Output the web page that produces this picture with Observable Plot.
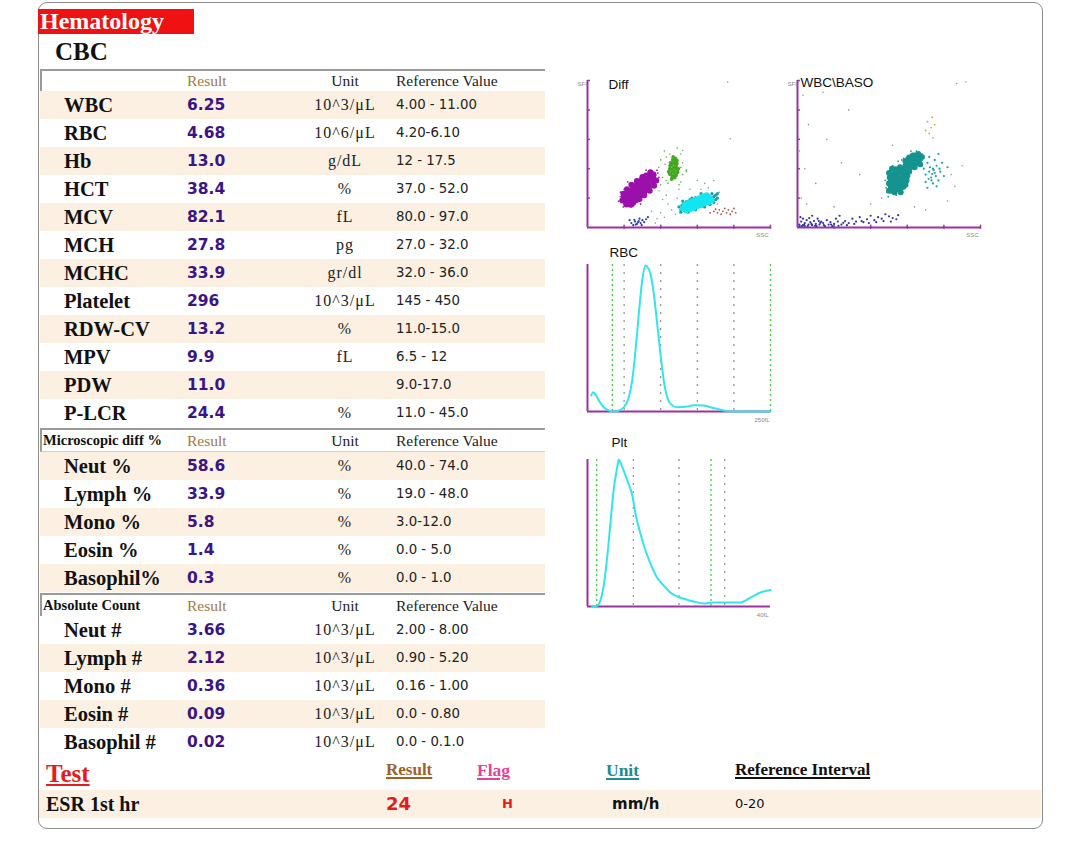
<!DOCTYPE html>
<html><head><meta charset="utf-8">
<script src="https://cdn.jsdelivr.net/npm/d3@7"></script>
<script src="https://cdn.jsdelivr.net/npm/@observablehq/plot@0.6"></script>
<style>
body{margin:0;background:#fff;width:1080px;height:859px;position:relative;overflow:hidden;}
.abs{position:absolute;white-space:nowrap;}
#box{position:absolute;left:38px;top:2px;width:1003px;height:825px;border:1px solid #8c8c8c;border-radius:9px;}
.row{position:absolute;left:40px;width:505px;height:28px;}
.row span{position:absolute;top:0;line-height:28px;white-space:nowrap;}
.nm{left:24px;font:bold 20.5px "Liberation Serif",serif;color:#111;}
.rs{left:147px;font:bold 15.5px "DejaVu Sans",sans-serif;color:#3a1585;}
.un{left:305px;transform:translateX(-50%);font:16px "Liberation Serif",serif;letter-spacing:1px;color:#222;}
.rf{left:356px;font:13.3px "DejaVu Sans",sans-serif;color:#222;}
.hd{position:absolute;left:40px;width:505px;border-top:2px solid #9a9a9a;border-left:2px solid #9a9a9a;border-bottom:1px solid #d0d0d0;box-sizing:border-box;}
.hd span{position:absolute;white-space:nowrap;}
.hres{left:145px;font:15.5px "Liberation Serif",serif;color:#a5773f;}
.hunit{left:303px;transform:translateX(-50%);font:15.5px "Liberation Serif",serif;color:#222;}
.href{left:354px;font:15.5px "Liberation Serif",serif;color:#222;}
.hsec{left:1px;font:bold 14.5px "Liberation Serif",serif;color:#111;}
.chart{position:absolute;}
</style></head>
<body>
<div id="box"></div>
<div class="abs" style="left:38px;top:9px;width:156px;height:25px;background:#f01212;"></div>
<div class="abs" style="left:40px;top:8px;line-height:26px;font:bold 24px 'Liberation Serif',serif;color:#fff;">Hematology</div>
<div class="abs" style="left:55px;top:38px;line-height:28px;font:bold 25px 'Liberation Serif',serif;color:#111;">CBC</div>
<div id="tables"></div>
<div id="charts"></div>
<script>
// ---------- Table data ----------
const cbcNames = ["WBC","RBC","Hb","HCT","MCV","MCH","MCHC","Platelet","RDW-CV","MPV","PDW","P-LCR"];
const cbcResults = ["6.25","4.68","13.0","38.4","82.1","27.8","33.9","296","13.2","9.9","11.0","24.4"];
const cbcUnits = ["10^3/\u03bcL","10^6/\u03bcL","g/dL","%","fL","pg","gr/dl","10^3/\u03bcL","%","fL","","%"];
const cbcRefs = ["4.00 - 11.00","4.20-6.10","12 - 17.5","37.0 - 52.0","80.0 - 97.0","27.0 - 32.0","32.0 - 36.0","145 - 450","11.0-15.0","6.5 - 12","9.0-17.0","11.0 - 45.0"];

const diffNames = ["Neut %","Lymph %","Mono %","Eosin %","Basophil%"];
const diffResults = ["58.6","33.9","5.8","1.4","0.3"];
const diffUnits = ["%","%","%","%","%"];
const diffRefs = ["40.0 - 74.0","19.0 - 48.0","3.0-12.0","0.0 - 5.0","0.0 - 1.0"];

const absNames = ["Neut #","Lymph #","Mono #","Eosin #","Basophil #"];
const absResults = ["3.66","2.12","0.36","0.09","0.02"];
const absUnits = ["10^3/\u03bcL","10^3/\u03bcL","10^3/\u03bcL","10^3/\u03bcL","10^3/\u03bcL"];
const absRefs = ["2.00 - 8.00","0.90 - 5.20","0.16 - 1.00","0.0 - 0.80","0.0 - 0.1.0"];

const headerLabels = ["Result","Unit","Reference Value"];
const sectionTitles = ["Microscopic diff %","Absolute Count"];

const testHeaders = ["Test","Result","Flag","Unit","Reference Interval"];
const esrRow = ["ESR 1st hr","24","H","mm/h","0-20"];

// ---------- Histogram data ----------
const rbcCurve = [[5,10.9],[7.7,13.1],[10.9,11.6],[15.5,7.5],[22.3,2.9],[29.1,0.7],[36,0],[42.8,0.7],[49.6,2.9],[56.4,9.7],[61,21],[65.6,41.5],[70.1,66.5],[74.7,89],[79.2,99.3],[82.4,98],[86,93.7],[90.6,80],[95.2,59.7],[99.7,39.2],[104.2,21],[108.9,9.7],[113.4,5.2],[122.5,2.9],[136.2,3.4],[145.2,4.3],[158.9,4.1],[168,2.9],[177.2,1.8],[186.2,0.7],[195.4,0],[250,0]];
const rbcGrayLines = [50,100,150,200];
const rbcGreenLines = [34,250];

const pltCurve = [[1,0],[2.1,0.5],[2.8,3.9],[3.6,15.3],[4.3,33.4],[5,56.2],[5.7,78.9],[6.5,94.8],[6.8,99.8],[7.6,94.8],[8.7,85.7],[9.8,75.5],[10.5,63],[11.6,49.3],[12.7,37.9],[13.8,28.9],[15.2,19.8],[16.7,14.1],[18.1,9.5],[19.6,6.8],[21.4,5],[23.2,3.4],[25.4,2],[27.6,2.7],[30.5,2.7],[33.4,2.7],[35.6,6.1],[37.8,9.5],[40,11.2]];
const pltGrayLines = [10,20,30];
const pltGreenLines = [2,27];

// ---------- Scatter data (Diff) ----------
const diffLymph = [[1.05,0.85],[1.1,0.95],[1.15,0.9],[1.2,1.05],[1.25,1.0],[1.3,1.15],[1.22,1.2],[1.35,1.1],[1.4,1.3],[1.32,1.35],[1.45,1.2],[1.5,1.4],[1.42,1.45],[1.55,1.35],[1.6,1.55],[1.52,1.6],[1.65,1.5],[1.7,1.7],[1.62,1.72],[1.75,1.65],[1.8,1.8],[1.0,1.05],[1.12,1.12],[1.28,1.28],[1.38,1.22],[1.48,1.52],[1.58,1.45],[1.68,1.62],[1.15,0.78],[1.35,0.95],[0.95,0.92],[1.82,1.62],[1.72,1.86],[1.25,1.42],[1.08,1.0],[1.45,1.32],[1.55,1.22],
  [1.1,0.9],[1.0,1.02],[1.2,0.78],[1.22,1.05],[1.12,1.17],[1.32,0.93],[1.34,1.2],[1.24,1.32],[1.44,1.08],[1.46,1.35],[1.36,1.47],[1.56,1.23],[1.58,1.5],[1.48,1.62],[1.68,1.38],[1.7,1.65],[1.6,1.77],[1.8,1.53],[1.8,1.78],[1.72,1.88],[1.18,1.25],[1.3,1.05],[1.4,1.4],[1.52,1.3],[1.64,1.6],[1.06,0.78],
  [0.98,1.15],[1.08,1.3],[1.2,1.45],[1.35,1.58],[1.5,1.72],[1.25,0.84],[1.42,0.97],[1.55,1.1],[1.7,1.25],[1.82,1.42],[1.88,1.6]];
const diffLymphSparse = [[0.85,0.9],[0.9,1.2],[1.1,1.55],[1.3,1.6],[1.9,1.95],[1.95,1.7],[1.7,1.3],[1.45,0.8],[1.2,0.7],[0.98,0.7],[1.85,1.4],[1.6,1.95],[0.9,1.05],[1.0,1.3],[1.92,1.85],[1.75,1.45]];
const diffMono = [[2.3,1.65],[2.38,1.7],[2.28,1.8],[2.4,1.85],[2.32,1.9],[2.45,1.95],[2.25,2.0],[2.36,2.05],[2.42,2.1],[2.3,2.15],[2.38,2.25],[2.33,2.3],[2.4,2.35],[2.27,2.2],[2.48,2.0],[2.22,1.9],[2.35,1.78],[2.44,2.28],[2.3,1.98],[2.36,1.92],[2.32,1.72],[2.42,1.78],[2.26,2.1],[2.35,2.18],[2.44,2.18],[2.34,2.4],[2.25,1.82],[2.46,1.88],[2.4,2.02]];
const diffMonoSparse = [[2.0,2.3],[2.1,2.6],[2.55,2.5],[2.2,1.5],[2.6,1.8],[2.05,1.7],[2.45,2.7],[1.95,2.05],[2.15,2.4],[2.55,1.55],[2.0,1.45],[2.6,2.2],[2.25,2.5],[2.7,1.95],[2.15,1.6],[2.55,2.05],[2.12,2.15],[2.5,1.45]];
const diffNeutCore = [[2.6,0.65],[2.7,0.68],[2.75,0.75],[2.85,0.75],[2.8,0.83],[2.95,0.8],[2.9,0.88],[3.05,0.85],[3.0,0.93],[3.15,0.9],[3.1,0.97],[3.25,0.95],[3.2,1.02],[3.35,1.0],[2.95,0.72],[2.88,0.8],[3.05,0.92],[3.18,0.95],
  [2.65,0.78],[2.75,0.85],[2.85,0.9],[2.95,0.95],[3.05,1.0],[3.15,1.05],[3.25,1.1],[2.7,0.58],[2.8,0.62],[2.9,0.66],[3.0,0.72],[3.1,0.76],[3.2,0.82],[3.3,0.86],[3.4,0.92]];
const diffNeutOuter = [[2.55,0.6],[2.65,0.58],[2.58,0.75],[2.7,0.88],[2.85,0.65],[3.0,0.7],[3.1,0.8],[3.3,0.88],[3.4,0.92],[3.45,1.05],[3.3,1.1],[3.5,1.1],[3.4,1.15],[3.15,1.1],[2.95,1.02],[2.8,0.95],[2.62,0.82],[3.55,1.0],[3.45,0.85],[2.5,0.7],[2.55,0.52],[2.75,0.52],[2.95,0.6],[3.2,0.7],[3.35,0.78],[3.5,0.95],[3.1,1.15],[2.85,1.0],[2.6,0.9],[3.55,1.15]];
const diffEos = [[3.35,0.5],[3.45,0.55],[3.55,0.5],[3.6,0.6],[3.7,0.55],[3.75,0.65],[3.8,0.5],[3.85,0.6],[3.95,0.55],[4.0,0.65],[3.9,0.45],[3.65,0.45],[3.5,0.62],[4.05,0.5]];
const diffBlue = [[1.2,0.15],[1.3,0.2],[1.35,0.12],[1.4,0.22],[1.45,0.15],[1.5,0.25],[1.55,0.18],[1.6,0.28],[1.25,0.08],[1.42,0.3],[1.15,0.25],[1.65,0.35],[1.32,0.1],[1.48,0.08],[1.38,0.18],[1.28,0.26]];
const diffSparse = [[3.83,4.95],[3.9,3.02],[2.6,2.62],[2.15,1.1],[2.3,0.6],[2.5,1.3],[2.8,1.3],[3.2,1.5],[3.45,1.6],[3.6,1.2],[2.0,0.5],[1.9,0.3],[2.1,0.35],[2.4,0.45],[3.55,0.8],[1.95,1.25],[2.7,1.9],[3.1,1.3],[1.75,0.55],[2.2,0.8],[2.45,1.0],[1.85,0.15],[2.05,0.95],[3.0,1.6],[3.3,1.35]];

// ---------- Scatter data (WBC\BASO) ----------
const basoMain = [[2.55,1.3],[2.65,1.2],[2.75,1.3],[2.6,1.45],[2.7,1.5],[2.8,1.45],[2.55,1.6],[2.65,1.65],[2.78,1.62],[2.88,1.7],[2.6,1.8],[2.72,1.85],[2.85,1.88],[2.68,1.98],[2.8,2.05],[2.92,2.0],[2.5,1.5],[2.9,1.55],[2.62,1.35],[2.7,1.75],[2.95,2.1],[3.05,2.2],[3.0,2.3],[3.12,2.35],[3.15,2.15],[3.22,2.28],[3.28,2.4],[3.2,2.45],[3.3,2.22],[3.08,2.05],[3.35,2.35],[2.98,1.95],[3.05,2.38],[2.58,1.72],[2.82,1.2],
  [2.58,1.25],[2.72,1.38],[2.85,1.6],[2.62,1.55],[2.75,1.72],[2.9,1.82],[2.55,1.4],[2.68,1.9],[2.8,1.95],[2.92,1.88],[2.65,1.28],[3.0,2.12],[3.1,2.28],[3.18,2.4],[3.25,2.2],[3.05,2.05],[3.32,2.3],[2.95,2.25],[3.15,2.45],[2.52,1.7],[2.78,1.52],[2.88,1.38],
  [2.5,1.25],[2.98,1.6],[2.95,1.45],[2.5,1.85],[2.58,2.0],[3.0,1.75],[3.35,2.15],[3.4,2.4],[3.3,2.5],[3.05,1.9],[3.2,2.05]];
const basoMainSparse = [[2.45,1.2],[2.5,1.9],[2.6,2.1],[2.75,2.25],[2.9,2.35],[3.0,1.8],[3.1,1.9],[3.25,2.6],[3.4,2.5],[2.48,1.05],[2.7,1.1],[2.95,1.35],[2.4,1.6],[3.1,2.6],[2.85,2.3],[2.42,1.35],[3.4,2.1],[3.0,1.6]];
const basoRight = [[3.5,1.8],[3.6,1.9],[3.7,2.0],[3.65,1.7],[3.75,1.85],[3.8,2.1],[3.55,2.2],[3.85,1.6],[3.7,1.5],[3.9,1.9],[3.6,2.4],[3.45,2.0],[4.0,1.75],[3.75,2.3],[3.95,2.2],[3.5,1.55],[3.8,1.4],[3.68,1.82],[3.72,1.95],[3.62,2.05],[4.1,2.05],[3.85,2.5],[3.4,2.3],[3.55,1.35],[3.78,1.75],[3.66,1.6],[3.88,2.0],[3.58,1.65]];
const basoOrange = [[3.55,3.6],[3.65,3.4],[3.6,3.2],[3.75,3.5],[3.7,3.05],[3.5,3.3],[3.68,3.75]];
const basoBlue = [[0.05,0.1],[0.1,0.2],[0.15,0.08],[0.2,0.15],[0.25,0.25],[0.3,0.1],[0.35,0.18],[0.4,0.08],[0.45,0.22],[0.5,0.12],[0.55,0.3],[0.6,0.1],[0.65,0.2],[0.7,0.15],[0.8,0.25],[0.85,0.1],[0.9,0.18],[1.0,0.12],[1.05,0.3],[1.1,0.2],[1.2,0.1],[1.3,0.22],[1.4,0.15],[1.5,0.3],[1.6,0.2],[1.7,0.35],[1.8,0.18],[1.9,0.28],[2.0,0.4],[2.1,0.25],[2.2,0.35],[2.3,0.3],[2.4,0.45],[2.5,0.38],[2.6,0.32],[2.75,0.42],[0.08,0.35],[0.2,0.05],[0.32,0.32],[0.75,0.05],[1.15,0.4],[0.4,0.4],[0.12,0.05],[0.28,0.05],[0.52,0.05],[0.95,0.05],
  [0.06,0.05],[0.18,0.1],[0.38,0.12],[0.48,0.06],[0.62,0.16],[0.72,0.08],[0.92,0.1],[1.12,0.06],[1.25,0.16],[1.35,0.08],[1.55,0.12],[1.75,0.22],[1.95,0.15],[2.15,0.18],[2.35,0.22],[2.55,0.2],[2.7,0.28],[0.15,0.3],[0.58,0.22]];
const basoSparse = [[0.1,1.0],[0.2,2.0],[0.3,3.5],[0.15,4.5],[0.5,1.5],[0.8,3.0],[1.2,2.2],[1.7,1.8],[1.4,4.0],[2.3,1.0],[2.0,0.8],[4.2,1.8],[4.5,2.1],[4.1,0.9],[3.2,0.7],[2.6,2.8],[4.6,4.95],[4.35,4.9],[0.7,4.6],[0.05,2.6],[0.25,0.8],[1.0,0.7],[3.5,0.6],[4.3,1.4]];

// ---------- Build tables ----------
const T = document.getElementById("tables");
function el(tag, cls, css, txt){const e=document.createElement(tag); if(cls) e.className=cls; if(css) e.style.cssText=css; if(txt!==undefined) e.textContent=txt; return e;}
function header(top, h, title){
  const d = el("div","hd",`top:${top}px;height:${h}px;`);
  const lh = `top:0;line-height:${h-3}px;`;
  if(title) d.appendChild(el("span","hsec",lh,title));
  d.appendChild(el("span","hres",lh,headerLabels[0]));
  d.appendChild(el("span","hunit",lh,headerLabels[1]));
  d.appendChild(el("span","href",lh,headerLabels[2]));
  T.appendChild(d);
}
function rows(top, names, results, units, refs, beigeOdd){
  names.forEach((n,i)=>{
    const beige = beigeOdd ? (i%2===1) : (i%2===0);
    const r = el("div","row",`top:${top+i*28}px;background:${beige?"#fcf0e3":"#fff"};`);
    r.appendChild(el("span","nm","",n));
    r.appendChild(el("span","rs","",results[i]));
    r.appendChild(el("span","un","",units[i]));
    r.appendChild(el("span","rf","",refs[i]));
    T.appendChild(r);
  });
}
header(69, 23, null);
rows(91, cbcNames, cbcResults, cbcUnits, cbcRefs, false);
header(428, 24, sectionTitles[0]);
rows(452, diffNames, diffResults, diffUnits, diffRefs, false);
header(593, 24, sectionTitles[1]);
rows(616, absNames, absResults, absUnits, absRefs, true);

// bottom test section
const thColors = ["#e41c1c","#a0602a","#e8409a","#208c8c","#111"];
const thX = [46,386,477,606,735];
const thSize = [25,17,17.5,17.5,17];
testHeaders.forEach((t,i)=>{
  T.appendChild(el("div","abs",`left:${thX[i]}px;top:760px;line-height:30px;font:bold ${thSize[i]}px 'Liberation Serif',serif;color:${thColors[i]};text-decoration:underline;text-decoration-thickness:${i===0?2:1.5}px;text-underline-offset:2px;`,t));
});
T.appendChild(el("div","abs","left:39px;top:790px;width:1002px;height:28px;background:#fcf0e3;"));
const esrCss = [
  "left:46px;font:bold 20px 'Liberation Serif',serif;color:#111;",
  "left:386px;font:bold 18px 'DejaVu Sans',sans-serif;color:#e41c1c;",
  "left:502px;font:bold 13px 'DejaVu Sans',sans-serif;color:#e41c1c;",
  "left:612px;font:bold 15px 'DejaVu Sans',sans-serif;color:#111;",
  "left:735px;font:13px 'DejaVu Sans',sans-serif;color:#111;"
];
esrRow.forEach((t,i)=>T.appendChild(el("div","abs",esrCss[i]+"top:790px;line-height:28px;",t)));

// ---------- Charts ----------
const C = document.getElementById("charts");
const purple = "#9933a0";
const px = d=>d[0], py = d=>d[1];
function place(svg, left, top){const d=el("div","chart",`left:${left}px;top:${top}px;`); d.appendChild(svg); C.appendChild(d);}
const baseStyle = {overflow:"visible", background:"none"};
const titleFont = {fontFamily:"'Liberation Sans',Arial,sans-serif", fontSize:13.5, fill:"#111"};
const tinyFont = {fontFamily:"'Liberation Sans',Arial,sans-serif", fontSize:6, fill:"#888"};

function scatterFrame(){
  return [
    Plot.ruleX([0], {stroke:purple, strokeWidth:2}),
    Plot.ruleY([0], {stroke:purple, strokeWidth:2}),
    Plot.ruleX([1,2,3,4,5], {y1:-0.06, y2:0.08, stroke:purple, strokeWidth:1.5}),
    Plot.ruleY([1,2,3,4,5], {x1:0, x2:0.08, stroke:purple, strokeWidth:1.5})
  ];
}
const diffPlot = Plot.plot({
  width:200, height:165, marginLeft:12, marginRight:5, marginTop:8, marginBottom:10,
  style: baseStyle,
  x:{domain:[0,5], axis:null}, y:{domain:[0,5], axis:null},
  marks:[
    ...scatterFrame(),
    Plot.dot(diffSparse, {x:px, y:py, r:0.8, fill:"#6aa890"}),
    Plot.dot(diffLymphSparse, {x:px, y:py, r:0.9, fill:"#a020b0"}),
    Plot.dot(diffLymph, {x:px, y:py, r:3, fill:"#9b10ab"}),
    Plot.dot(diffMonoSparse, {x:px, y:py, r:0.8, fill:"#55b030"}),
    Plot.dot(diffMono, {x:px, y:py, r:1.9, fill:"#44a822"}),
    Plot.dot(diffNeutOuter, {x:px, y:py, r:1.6, fill:"#1c9ea6"}),
    Plot.dot(diffNeutCore, {x:px, y:py, r:2.8, fill:"#12e6f0"}),
    Plot.dot(diffEos, {x:px, y:py, r:0.9, fill:"#b0504a"}),
    Plot.dot(diffBlue, {x:px, y:py, r:1.1, fill:"#3040a8"}),
    Plot.text(["Diff"], {frameAnchor:"top-left", dx:21, dy:-1, ...titleFont}),
    Plot.text(["SFL"], {frameAnchor:"top-left", dx:-10, dy:1, ...tinyFont}),
    Plot.text(["SSC"], {frameAnchor:"bottom-right", dx:-2, dy:9, ...tinyFont})
  ]
});
place(diffPlot, 575, 72);

const basoPlot = Plot.plot({
  width:200, height:165, marginLeft:12, marginRight:5, marginTop:8, marginBottom:10,
  style: baseStyle,
  x:{domain:[0,5], axis:null}, y:{domain:[0,5], axis:null},
  marks:[
    ...scatterFrame(),
    Plot.dot(basoSparse, {x:px, y:py, r:0.8, fill:"#8a8ab8"}),
    Plot.dot(basoBlue, {x:px, y:py, r:1.1, fill:"#3333aa"}),
    Plot.dot(basoMainSparse, {x:px, y:py, r:0.9, fill:"#1a9898"}),
    Plot.dot(basoMain, {x:px, y:py, r:3, fill:"#14938f"}),
    Plot.dot(basoRight, {x:px, y:py, r:1.1, fill:"#20a0a0"}),
    Plot.dot(basoOrange, {x:px, y:py, r:0.9, fill:"#d4a040"}),
    Plot.text(["WBC\\BASO"], {frameAnchor:"top-left", dx:3, dy:-3, ...titleFont}),
    Plot.text(["SFL"], {frameAnchor:"top-left", dx:-10, dy:1, ...tinyFont}),
    Plot.text(["SSC"], {frameAnchor:"bottom-right", dx:-2, dy:9, ...tinyFont})
  ]
});
place(basoPlot, 785, 72);

const rbcPlot = Plot.plot({
  width:200, height:185, marginLeft:12, marginRight:5, marginTop:24, marginBottom:14,
  style: baseStyle,
  x:{domain:[0,250], axis:null}, y:{domain:[0,100], axis:null},
  marks:[
    Plot.ruleX(rbcGrayLines, {stroke:"#777", strokeDasharray:"2,6", strokeWidth:1}),
    Plot.ruleX(rbcGreenLines, {stroke:"#3fcf3f", strokeDasharray:"2,3", strokeWidth:1.3}),
    Plot.ruleX([0], {stroke:purple, strokeWidth:2}),
    Plot.ruleY([0], {stroke:purple, strokeWidth:2}),
    Plot.line(rbcCurve, {x:px, y:py, stroke:"#33e4ec", strokeWidth:2, curve:"monotone-x"}),
    Plot.text(["RBC"], {frameAnchor:"top-left", dx:22, dy:-17, ...titleFont}),
    Plot.text(["250fL"], {frameAnchor:"bottom-right", dx:-1, dy:10, ...tinyFont})
  ]
});
place(rbcPlot, 575, 240);

const pltPlot = Plot.plot({
  width:200, height:190, marginLeft:12, marginRight:5, marginTop:29, marginBottom:14,
  style: baseStyle,
  x:{domain:[0,40], axis:null}, y:{domain:[0,100], axis:null},
  marks:[
    Plot.ruleX(pltGrayLines, {stroke:"#777", strokeDasharray:"2,6", strokeWidth:1}),
    Plot.ruleX(pltGreenLines, {stroke:"#3fcf3f", strokeDasharray:"2,3", strokeWidth:1.3}),
    Plot.ruleX([0], {stroke:purple, strokeWidth:2}),
    Plot.ruleY([0], {stroke:purple, strokeWidth:2}),
    Plot.line(pltCurve, {x:px, y:py, stroke:"#33e4ec", strokeWidth:2, curve:"monotone-x"}),
    Plot.text(["Plt"], {frameAnchor:"top-left", dx:24, dy:-22, ...titleFont}),
    Plot.text(["40fL"], {frameAnchor:"bottom-right", dx:-2, dy:10, ...tinyFont})
  ]
});
place(pltPlot, 575, 430);
</script>
</body></html>
